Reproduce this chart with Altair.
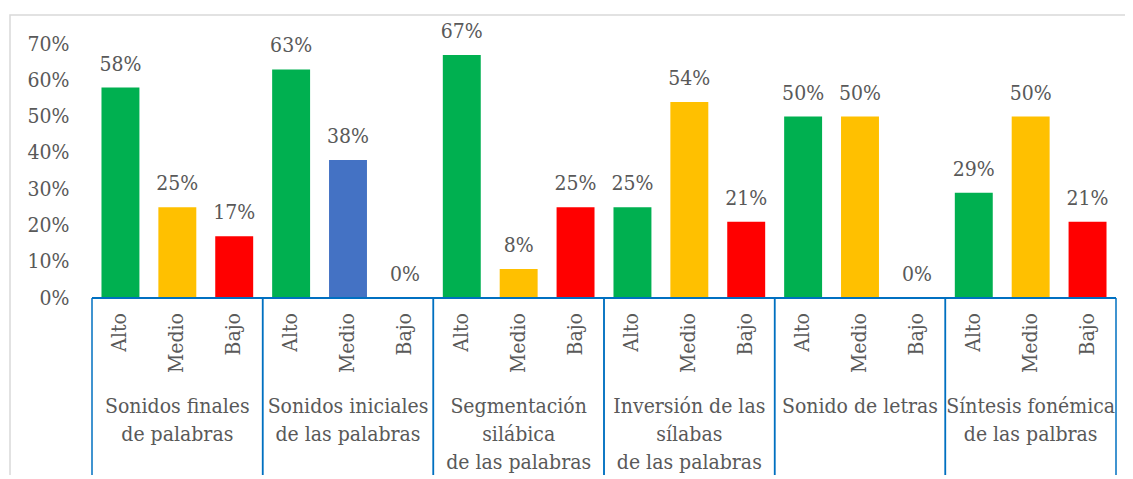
import altair as alt
import pandas as pd

groups = [
    "Sonidos finales\nde palabras",
    "Sonidos iniciales\nde las palabras",
    "Segmentación\nsilábica\nde las palabras",
    "Inversión de las\nsílabas\nde las palabras",
    "Sonido de letras",
    "Síntesis fonémica\nde las palbras",
]
levels = ["Alto", "Medio", "Bajo"]
values_pct = [
    [58, 25, 17],
    [63, 38, 0],
    [67, 8, 25],
    [25, 54, 21],
    [50, 50, 0],
    [29, 50, 21],
]
y_ticks = [0, 0.1, 0.2, 0.3, 0.4, 0.5, 0.6, 0.7]

level_colors = {"Alto": "#00B050", "Medio": "#FFC000", "Bajo": "#FF0000", "Medio (otro)": "#4472C4"}
override_key = {(1, "Medio"): "Medio (otro)"}

rows = []
for gi, g in enumerate(groups):
    for li, lv in enumerate(levels):
        rows.append({
            "group": g,
            "level": lv,
            "value": values_pct[gi][li] / 100,
            "colorkey": override_key.get((gi, lv), lv),
        })
df = pd.DataFrame(rows)
gdf = pd.DataFrame({"group": groups})

FONT = "'DejaVu Serif Condensed', 'DejaVu Serif', serif"
TXT = "#595959"
BLUE = "#0070C0"
W, H = 1024, 254
FS = 21

xenc = alt.X("group:N", sort=groups, axis=None,
             scale=alt.Scale(paddingInner=0, paddingOuter=0))
xoff = alt.XOffset("level:N", sort=levels,
                   scale=alt.Scale(paddingInner=0.333, paddingOuter=0.1667))
yscale = alt.Scale(domain=[0, 0.7], nice=False)
yaxis = alt.Axis(values=y_ticks, format=".0%", title=None, domain=False,
                 ticks=False, grid=False, labelPadding=23, labelOverlap=False,
                 labelFont=FONT, labelFontSize=FS, labelColor=TXT)
yenc = alt.Y("value:Q", scale=yscale, axis=yaxis)

base = alt.Chart(df)

bars = base.mark_bar().encode(
    x=xenc, xOffset=xoff, y=yenc,
    color=alt.Color("colorkey:N", legend=None,
                    scale=alt.Scale(domain=list(level_colors.keys()),
                                    range=list(level_colors.values()))),
)

labels = base.mark_text(font=FONT, fontSize=FS, color=TXT, baseline="alphabetic", dy=-17).encode(
    x=xenc, xOffset=xoff, y=yenc,
    text=alt.Text("value:Q", format=".0%"),
)

ticklabels = base.mark_text(font=FONT, fontSize=FS, color=TXT, angle=270,
                            align="right", baseline="middle").encode(
    x=xenc, xOffset=xoff, y=alt.value(H + 15), text="level:N",
)

baseline_rule = alt.Chart(gdf).mark_rule(color=BLUE, strokeWidth=1.5).encode(
    y=alt.YDatum(0, scale=yscale, axis=yaxis)
)

div_left = alt.Chart(gdf).mark_rule(color=BLUE, strokeWidth=1.5).encode(
    x=alt.X("group:N", sort=groups, bandPosition=0),
    y=alt.value(H), y2=alt.value(H + 250),
)
div_right = alt.Chart(gdf).mark_rule(color=BLUE, strokeWidth=1.5).encode(
    x=alt.X("group:N", sort=groups, bandPosition=1),
    y=alt.value(H), y2=alt.value(H + 250),
)

grouplabels = alt.Chart(gdf).mark_text(font=FONT, fontSize=FS, color=TXT, align="center",
                                       baseline="alphabetic", lineBreak="\n",
                                       lineHeight=28).encode(
    x=alt.X("group:N", sort=groups), y=alt.value(H + 115), text="group:N",
)

border = alt.Chart(gdf.head(1)).mark_rect(fill=None, stroke="#D9D9D9", strokeWidth=1.5).encode(
    x=alt.value(-82), x2=alt.value(W + 60), y=alt.value(-29), y2=alt.value(H + 300),
)

chart = alt.layer(
    border, bars, labels, ticklabels, baseline_rule, div_left, div_right, grouplabels
).resolve_scale(x="shared").properties(
    width=W, height=H,
    autosize=alt.AutoSizeParams(type="none"),
    padding={"left": 84, "top": 36, "right": 9, "bottom": 177},
).configure_view(stroke=None)

chart.save("out.html", embed_options={"renderer": "svg", "actions": False})
